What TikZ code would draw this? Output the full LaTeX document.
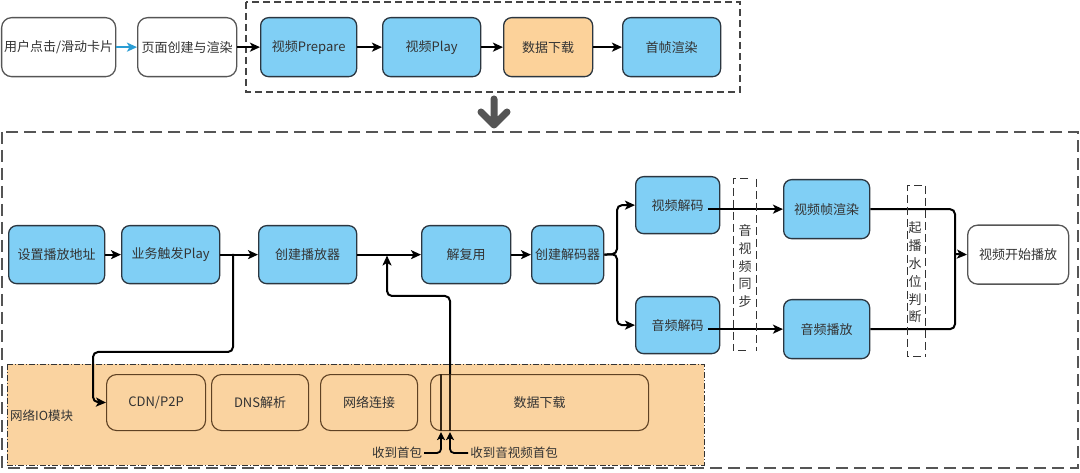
\documentclass[tikz,border=0pt]{standalone}
\usepackage{fontspec}
\setmainfont{Noto Sans CJK SC}
\usetikzlibrary{arrows.meta}
\definecolor{bfill}{HTML}{80CFF5}
\definecolor{ofill}{HTML}{FCD29A}
\definecolor{nfill}{HTML}{FAD3A0}
\definecolor{txt}{HTML}{333333}
\definecolor{bord}{HTML}{2B3640}
\definecolor{nbrown}{HTML}{5E4123}
\definecolor{lblue}{HTML}{2A9DD4}
\definecolor{gline}{HTML}{555555}
\begin{document}
\begin{tikzpicture}[x=1pt,y=-1pt,
  base/.style={rounded corners=8pt, line width=1.3pt, inner sep=0pt, text=txt,
    font=\fontsize{13}{15}\selectfont, anchor=north west, align=center},
  bluebox/.style={base, draw=bord, fill=bfill},
  orangebox/.style={base, draw=bord, fill=ofill},
  whitebox/.style={base, draw=gline, fill=white, rounded corners=10pt},
  netbox/.style={base, draw=nbrown, fill=nfill, rounded corners=10pt, line width=1.1pt},
  lbl/.style={inner sep=2pt, text=txt, font=\fontsize{12.5}{15}\selectfont},
  vtext/.style={inner sep=0pt, text=txt, font=\fontsize{13}{17.8}\selectfont, align=center},
  arr/.style={-{Stealth[length=10pt,width=9pt,inset=2.5pt]}, line width=2pt, black},
  arrs/.style={-{Stealth[length=8pt,width=8pt,inset=2pt]}, line width=1.8pt, black},
  conn/.style={line width=2pt, black},
  bracket/.style={dash pattern=on 8pt off 4pt, line width=1pt, color=txt}
]
\useasboundingbox (0,0) rectangle (1080,473);
\fill[white] (0,0) rectangle (1080,473);

% frames
\draw[dash pattern=on 12pt off 6pt, line width=1.5pt, color=gline] (2,132) rectangle (1078,468);
\draw[dash pattern=on 7pt off 4pt, line width=1.3pt, color=gline!80!black] (246,2) rectangle (740,92);
\draw[fill=nfill, draw=txt, line width=1pt, dash pattern=on 6pt off 2pt on 1.2pt off 2pt] (7,364) rectangle (704,465);

% big down arrow
\draw[line width=7pt, line cap=round, line join=round, color=gline]
  (494,99) -- (494,123) (481,112) -- (494,125) -- (507,112);

% top row
\node[whitebox, minimum width=114pt, minimum height=59pt] (u1) at (1,17) {用户点击/滑动卡片};
\node[whitebox, minimum width=99pt, minimum height=59pt] (u2) at (137,17) {页面创建与渲染};
\node[bluebox, minimum width=96pt, minimum height=59pt] (p1) at (260,17) {视频Prepare};
\node[bluebox, minimum width=98pt, minimum height=59pt] (p2) at (382,17) {视频Play};
\node[orangebox, minimum width=89pt, minimum height=59pt] (p3) at (503,17) {数据下载};
\node[bluebox, minimum width=98pt, minimum height=59pt] (p4) at (622,17) {首帧渲染};

\draw[arr, color=lblue] (u1) -- (u2);
\draw[arr] (u2) -- (p1);
\draw[arr] (p1) -- (p2);
\draw[arr] (p2) -- (p3);
\draw[arr] (p3) -- (p4);

% main row
\node[bluebox, minimum width=96pt, minimum height=58pt] (m1) at (8,225) {设置播放地址};
\node[bluebox, minimum width=98pt, minimum height=58pt] (m2) at (121,225) {业务触发Play};
\node[bluebox, minimum width=98pt, minimum height=58pt] (m3) at (258,225) {创建播放器};
\node[bluebox, minimum width=89pt, minimum height=58pt] (m4) at (421,225) {解复用};
\node[bluebox, minimum width=72pt, minimum height=58pt] (m5) at (531,225) {创建解码器};
\node[bluebox, minimum width=84pt, minimum height=57pt] (vdec) at (635,176) {视频解码};
\node[bluebox, minimum width=84pt, minimum height=57pt] (adec) at (635,296) {音频解码};
\node[bluebox, minimum width=86pt, minimum height=59pt] (vren) at (783,179) {视频帧渲染};
\node[bluebox, minimum width=86pt, minimum height=59pt] (aply) at (783,299) {音频播放};
\node[whitebox, minimum width=101pt, minimum height=59pt] (start) at (967,224.5) {视频开始播放};

% network module
\node[lbl, anchor=west, inner sep=0pt] (netlbl) at (10,416) {网络IO模块};
\node[netbox, minimum width=99pt, minimum height=56pt] (cdn) at (106,374) {CDN/P2P};
\node[netbox, minimum width=97pt, minimum height=56pt] (dns) at (211,374) {DNS解析};
\node[netbox, minimum width=97pt, minimum height=56pt] (conn) at (320,374) {网络连接};
\node[netbox, minimum width=218pt, minimum height=56pt] (dl) at (430,374) {数据下载};
\coordinate (dlA) at (441,374);
\coordinate (dlB) at (450,374);
\draw[line width=1.1pt, nbrown!60!black] (dlA) -- (dlA |- dl.south) (dlB) -- (dlB |- dl.south);

\node[lbl] (r1) at (397,453) {收到首包};
\node[lbl] (r2) at (514,453) {收到音视频首包};

% connectors main
\draw[arr] (m1) -- (m2);
\draw[arr] (m2) -- (m3);
\draw[arr] (m3) -- (m4);
\draw[arr] (m4) -- (m5);

\coordinate (brA) at (233,254);
\draw[arr, rounded corners=5pt] (brA) -- (233,352) -- (93,352) -- (93,402) -- (cdn.west);

\coordinate (upT) at (387,255.5);
\draw[arr, rounded corners=5pt] (dlB) -- (450,296) -- (387,296) -- (upT);

\coordinate (sp) at (617,254);
\draw[arr, rounded corners=5pt] (m5.east) -- (sp) |- (vdec.west);
\draw[arr, rounded corners=5pt] (m5.east) -- (sp) |- (adec.west);

\draw[arr] ([xshift=-12pt]vdec.east |- vren.west) -- (vren.west);
\draw[arr] ([xshift=-12pt]adec.east |- aply.west) -- (aply.west);

\coordinate (mj) at (955,254);
\draw[conn, rounded corners=5pt] (vren.east) -| (mj);
\draw[conn, rounded corners=5pt] (aply.east) -| (mj);
\draw[arr] (mj) -- (start.west);

\draw[arrs, rounded corners=4pt] (r1.east) -| ([yshift=-1pt]dlA |- dl.south);
\draw[arrs, rounded corners=4pt] (r2.west) -| ([yshift=-1pt]dlB |- dl.south);

% brackets
\draw[bracket] (748,179) -- (733,179) -- (733,351) -- (748,351);
\draw[bracket] (756,179) -- (756,351);
\node[vtext] (sync) at (745,266) {音\\视\\频\\同\\步};
\draw[bracket] (922,186) -- (907,186) -- (907,357) -- (922,357);
\draw[bracket] (925,186) -- (925,357);
\node[vtext] (water) at (915,272.5) {起\\播\\水\\位\\判\\断};
\end{tikzpicture}
\end{document}
